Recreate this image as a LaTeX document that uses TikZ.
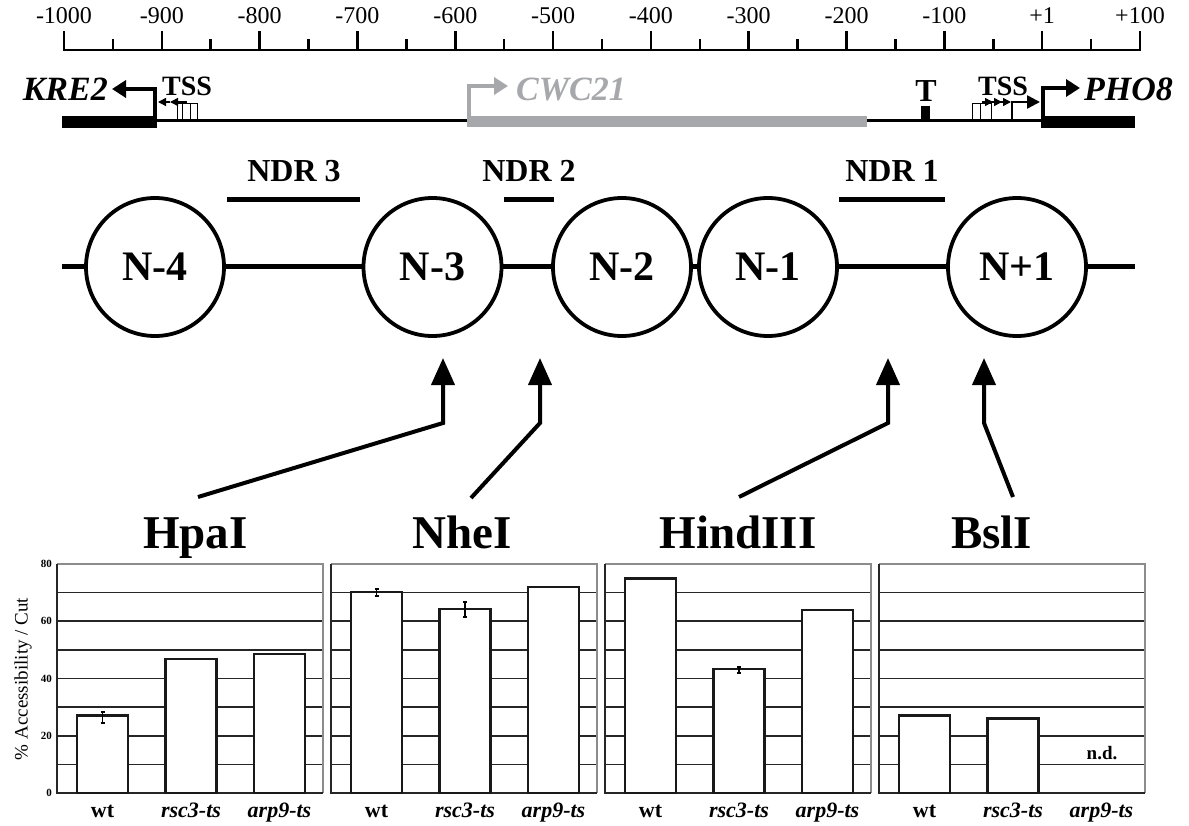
\documentclass[tikz,border=0pt]{standalone}
\usepackage{fontspec}
\setmainfont{Liberation Serif}
\usetikzlibrary{arrows.meta}
\newcommand\myfs[1]{\fontsize{#1}{#1}\selectfont}
\definecolor{cwcgray}{RGB}{166,168,171}
\begin{document}
\begin{tikzpicture}[x=1pt,y=-1pt,
  ruler/.style={line width=2.5pt},
  scalelab/.style={font=\myfs{24}, inner sep=0, anchor=base},
  genebox/.style={fill=black, inner sep=0, draw=none},
  genename/.style={font=\myfs{34}\bfseries\itshape, inner sep=0},
  tsslab/.style={font=\myfs{28}\bfseries, inner sep=0, anchor=base west},
  genearrow/.style={line width=4pt, -{Triangle[length=14pt,width=17pt]}},
  smallarr/.style={line width=1.5pt, -{Triangle[length=8pt,width=8pt]}},
  thinbox/.style={line width=1pt},
  ndrlab/.style={font=\myfs{32}\bfseries, inner sep=0, anchor=base},
  ndrbar/.style={line width=5pt},
  nuc/.style={circle, draw, line width=3.8pt, fill=white, minimum size=138pt, inner sep=0, font=\myfs{42}\bfseries},
  chrom/.style={line width=5pt},
  enz/.style={line width=4pt, -{Triangle[length=27pt,width=23pt]}},
  enzlab/.style={font=\myfs{47}\bfseries, inner sep=0, anchor=base},
  grid/.style={line width=1.6pt, black!85},
  frame/.style={line width=1.5pt, black!45},
  bar/.style={line width=2.5pt, fill=white, draw=black!90},
  err/.style={line width=1.3pt},
  ytick/.style={font=\myfs{11}\bfseries, inner sep=0, anchor=east},
  xlab/.style={font=\myfs{22}\bfseries, inner sep=0, anchor=base},
]
\useasboundingbox[fill=white] (0,0) rectangle (1189,826);

% ---------------- ruler
\coordinate (rl) at (64,50);
\coordinate (rr) at (1140,50);
\draw[ruler] (rl) -- (rr);
\foreach \k in {0,...,22}{
  \pgfmathsetmacro\xx{64+\k*48.909}
  \ifodd\k
    \draw[ruler] (\xx,50) -- (\xx,39);
  \else
    \draw[ruler] (\xx,51) -- (\xx,31);
  \fi
}
\foreach \k/\t in {0/-1000,1/-900,2/-800,3/-700,4/-600,5/-500,6/-400,7/-300,8/-200,9/-100,10/+1,11/+100}
  \node[scalelab] (s\k) at (64+\k*97.818,24) {\t};

% ---------------- gene track
\coordinate (gl) at (157,121);
\coordinate (gr) at (1041,121);
\draw[line width=3pt] (gl) -- (gr);
\node[genebox, minimum width=95pt, minimum height=12.5pt] (kre) at (109.5,122) {};
\node[genebox, fill=cwcgray, minimum width=400pt, minimum height=11pt] (cwc) at (667,121.5) {};
\node[genebox, minimum width=94pt, minimum height=12.5pt] (pho) at (1088,122) {};
\node[genebox, minimum width=9pt, minimum height=15pt] (tbox) at (925.5,114) {};

\coordinate (kreTip) at (112,89);
\coordinate (cwcTip) at (508,86);
\coordinate (phoTip) at (1080,88);
\draw[genearrow] ([xshift=-2pt]kre.north east) |- (kreTip);
\draw[genearrow, draw=cwcgray, line width=3.5pt] ([xshift=2pt]cwc.north west) |- (cwcTip);
\draw[genearrow] ([xshift=2pt]pho.north west) |- (phoTip);

\node[genename, anchor=base east] (kreT) at (108,101) {KRE2};
\node[genename, anchor=base west, text=cwcgray] (cwcT) at (516,101) {CWC21};
\node[genename, anchor=base west] (phoT) at (1084,101) {PHO8};
\node[tsslab] (tss1) at (162,96) {TSS};
\node[tsslab] (tss2) at (978,96) {TSS};
\node[font=\myfs{32}\bfseries, inner sep=0, anchor=base] (tT) at (926,102) {T};

% left TSS marks
\coordinate (la1) at (170,102); \coordinate (lt1) at (158,102);
\coordinate (la2) at (187,102); \coordinate (lt2) at (170,102);
\draw[smallarr] (la1) -- (lt1);
\draw[smallarr] (la2) -- (lt2);
\draw[thinbox] (177,121) -- (177,104) -- (197,104) -- (197,121);
\draw[thinbox] (182,104) -- (182,121) (190,104) -- (190,121);
% right TSS marks
\coordinate (ra1) at (982,102); \coordinate (rt1) at (993,102);
\coordinate (ra2) at (991,102); \coordinate (rt2) at (1002,102);
\coordinate (ra3) at (1000,102); \coordinate (rt3) at (1011,102);
\draw[smallarr] (ra1) -- (rt1);
\draw[smallarr] (ra2) -- (rt2);
\draw[smallarr] (ra3) -- (rt3);
\draw[thinbox] (972,121) -- (972,104) -- (991,104) -- (991,121);
\draw[thinbox] (980,104) -- (980,121);
\coordinate (tssb) at (1012,121);
\coordinate (tsst) at (1040,102);
\draw[line width=2.5pt, -{Triangle[length=13pt,width=13pt]}] (tssb) |- (tsst);

% ---------------- NDRs
\node[ndrlab] (ndr3) at (294,182) {NDR 3};
\node[ndrlab] (ndr2) at (529,182) {NDR 2};
\node[ndrlab] (ndr1) at (892,182) {NDR 1};
\coordinate (n3a) at (227,200); \coordinate (n3b) at (360,200);
\coordinate (n2a) at (504,200); \coordinate (n2b) at (554,200);
\coordinate (n1a) at (839,200); \coordinate (n1b) at (945,200);
\draw[ndrbar] (n3a) -- (n3b);
\draw[ndrbar] (n2a) -- (n2b);
\draw[ndrbar] (n1a) -- (n1b);

% ---------------- nucleosomes
\coordinate (cl) at (62,267);
\coordinate (cr) at (1135,267);
\draw[chrom] (cl) -- (cr);
\node[nuc] (nm4) at (155,267) {N-4};
\node[nuc] (nm3) at (432.5,267) {N-3};
\node[nuc] (nm2) at (622,267) {N-2};
\node[nuc] (nm1) at (768,267) {N-1};
\node[nuc] (np1) at (1017,267) {N+1};

% ---------------- enzyme arrows
\coordinate (hpaS) at (198,497); \coordinate (hpaC) at (443,423); \coordinate (hpaT) at (443,358);
\coordinate (nheS) at (471,498); \coordinate (nheC) at (540,423); \coordinate (nheT) at (540,358);
\coordinate (hinS) at (739,497); \coordinate (hinC) at (888,423); \coordinate (hinT) at (888,358);
\coordinate (bslS) at (1013,497); \coordinate (bslC) at (984,423); \coordinate (bslT) at (984,358);
\draw[enz] (hpaS) -- (hpaC) -- (hpaT);
\draw[enz] (nheS) -- (nheC) -- (nheT);
\draw[enz] (hinS) -- (hinC) -- (hinT);
\draw[enz] (bslS) -- (bslC) -- (bslT);
\node[enzlab] (hpa) at (195.5,548) {HpaI};
\node[enzlab] (nhe) at (462,548) {NheI};
\node[enzlab] (hin) at (738,548) {HindIII};
\node[enzlab] (bsl) at (991.5,548) {BslI};

% ---------------- bar charts
\foreach \i in {0,1,2,3}{
  \pgfmathsetmacro\L{57+274*\i}
  \foreach \k in {1,...,7}
    \draw[grid] (\L,793-\k*28.625) -- (\L+266,793-\k*28.625);
  \draw[frame] (\L,564) -- (\L+266,564) -- (\L+266,793);
  \draw[grid] (\L,564) -- (\L,793) -- (\L+266,793);
}
\foreach \c/\v in {102.5/27, 191/46.8, 279.5/48.5, 376.5/70.3, 465/64.3, 553.5/72, 650.5/75, 739/43.3, 827.5/64, 924.5/27, 1013/26}
  \draw[bar] (\c-25.5,793) rectangle (\c+25.5,793-\v*2.8625);
\foreach \c/\a/\b in {102.5/712/723, 376.5/589/596, 465/602/617, 739/667/673}
  \draw[err] (\c-2,\a) -- (\c+2,\a) (\c,\a) -- (\c,\b) (\c-2,\b) -- (\c+2,\b);
\foreach \k/\t in {0/0,2/20,4/40,6/60,8/80}
  \node[ytick] (yt\k) at (52,793-\k*28.625) {\t};
\node[rotate=90, font=\myfs{19}, inner sep=0] (ytitle) at (23,679) {\% Accessibility / Cut};
\foreach \i in {0,1,2,3}{
  \pgfmathsetmacro\L{57+274*\i}
  \node[xlab] (xa\i) at (\L+45.5,817) {wt};
  \node[xlab] (xb\i) at (\L+134,817) {\itshape rsc3-ts};
  \node[xlab] (xc\i) at (\L+222.5,817) {\itshape arp9-ts};
}
\node[font=\myfs{19}\bfseries, inner sep=0] (nd) at (1102,753) {n.d.};
\end{tikzpicture}
\end{document}
